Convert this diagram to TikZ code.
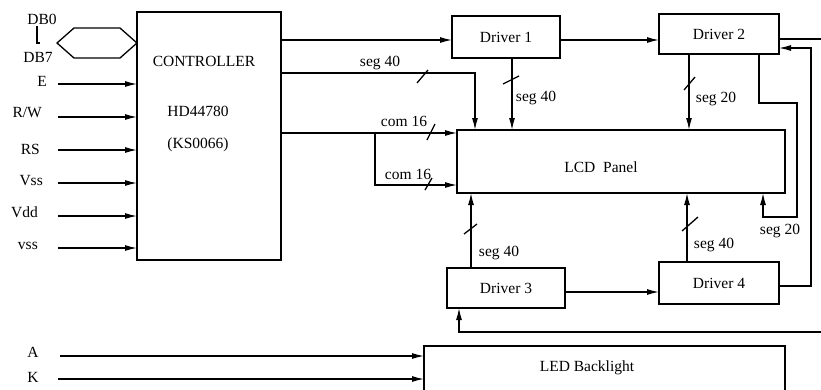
\documentclass[tikz,border=0pt]{standalone}
\usepackage{fontspec}
\setmainfont{Liberation Serif}
\usetikzlibrary{arrows.meta}
\begin{document}
\begin{tikzpicture}[x=1pt,y=-1pt,
 font=\fontsize{15.5}{18}\selectfont,
 box/.style={draw,line width=1.3pt,inner sep=0pt,outer sep=0pt},
 wire/.style={line width=1.3pt},
 arr/.style={wire,-{Latex[length=12pt,width=6pt]}},
 txt/.style={inner sep=0pt},
 tick/.style={line width=1.3pt}]
\useasboundingbox (0,0) rectangle (821,389);
% boxes
\node[box,minimum width=144pt,minimum height=248pt] (ctrl) at (209,136) {};
\node[box,minimum width=108pt,minimum height=42pt] (d1) at (506,37) {Driver 1};
\node[box,minimum width=120pt,minimum height=40pt] (d2) at (719,34) {Driver 2};
\node[box,minimum width=328pt,minimum height=63pt] (lcd) at (621,161.5) {};
\node[box,minimum width=118pt,minimum height=40pt] (d3) at (506,288) {Driver 3};
\node[box,minimum width=120pt,minimum height=42pt] (d4) at (719,283) {Driver 4};
\node[box,minimum width=361pt,minimum height=60pt] (led) at (604.5,376) {};
% texts in boxes
\node[txt] (tctrl) at (204,61) {CONTROLLER};
\node[txt] (thd) at (198,111) {HD44780};
\node[txt] (tks) at (198,145) {(KS0066)};
\node[txt] (tlcd) at (601,167) {LCD\ \ Panel};
\node[txt] (tled) at (587,368) {LED Backlight};
% bus
\draw[wire] (57,43) -- (74,28) -- (120,28) -- (ctrl.west |- 0,43) -- (120,58) -- (74,58) -- cycle;
\node[txt] (db0) at (42,19) {DB0};
\node[txt] (db7) at (38,57) {DB7};
\draw[wire] (37,26) -- (37,43) -- (40,43);
% input labels and wires
\node[txt,anchor=east] (le) at (47,81) {E};
\node[txt,anchor=east] (lrw) at (42,113) {R/W};
\node[txt,anchor=east] (lrs) at (40,149) {RS};
\node[txt,anchor=east] (lvss) at (43,181) {Vss};
\node[txt,anchor=east] (lvdd) at (38,212) {Vdd};
\node[txt,anchor=east] (lvss2) at (38,246) {vss};
\foreach \yy in {84,117,150,183,216,248}
  \draw[arr] (58,\yy) -- (ctrl.west |- 0,\yy);
% controller outputs
\draw[arr] (ctrl.east |- 0,40) -- (d1.west |- 0,40);
\draw[arr] (ctrl.east |- 0,73) -| (lcd.north -| 475,0);
\draw[arr] (ctrl.east |- 0,133) -- (lcd.west |- 0,133);
\draw[arr] (375,133) |- (lcd.west |- 0,185);
\draw[tick] (417,83) -- (428,70);
\draw[tick] (427,140) -- (435,124);
\draw[tick] (425,190) -- (432,178);
\node[txt] (ls1) at (380,63) {seg 40};
\node[txt] (lc1) at (404,121) {com 16};
\node[txt] (lc2) at (408,174) {com 16};
% drivers
\draw[arr] (d1.east |- 0,40) -- (d2.west |- 0,40);
\draw[arr] (d1.south -| 512,0) -- (lcd.north -| 512,0);
\draw[tick] (503,84) -- (519,76);
\node[txt] (ls2) at (536,98) {seg 40};
\draw[arr] (d2.south -| 689,0) -- (lcd.north -| 689,0);
\draw[tick] (684,90) -- (695,77);
\node[txt] (ls3) at (716,99) {seg 20};
\coordinate (r1) at (821,39);
\draw[wire] (d2.east |- r1) -- (r1);
\draw[arr] (d4.east |- 0,286) -| (811,48) -- (d2.east |- 0,48);
\draw[arr] (d2.south -| 759,0) |- (797,103) |- (763,217) -- (lcd.south -| 763,0);
\node[txt] (ls4) at (780,231) {seg 20};
\draw[arr] (d3.north -| 471,0) -- (lcd.south -| 471,0);
\draw[tick] (464,234) -- (477,224);
\node[txt] (ls5) at (499,253) {seg 40};
\draw[arr] (d3.east |- 0,292) -- (d4.west |- 0,292);
\draw[arr] (d4.north -| 687,0) -- (lcd.south -| 687,0);
\draw[tick] (682,231) -- (698,217);
\node[txt] (ls6) at (714,245) {seg 40};
\coordinate (r2) at (821,332);
\draw[arr] (r2) -| (d3.south -| 459,0);
% backlight
\node[txt] (la) at (33,352) {A};
\node[txt] (lk) at (33,377) {K};
\draw[arr] (60,356) -- (led.west |- 0,356);
\draw[arr] (58,379) -- (led.west |- 0,379);
\end{tikzpicture}
\end{document}
